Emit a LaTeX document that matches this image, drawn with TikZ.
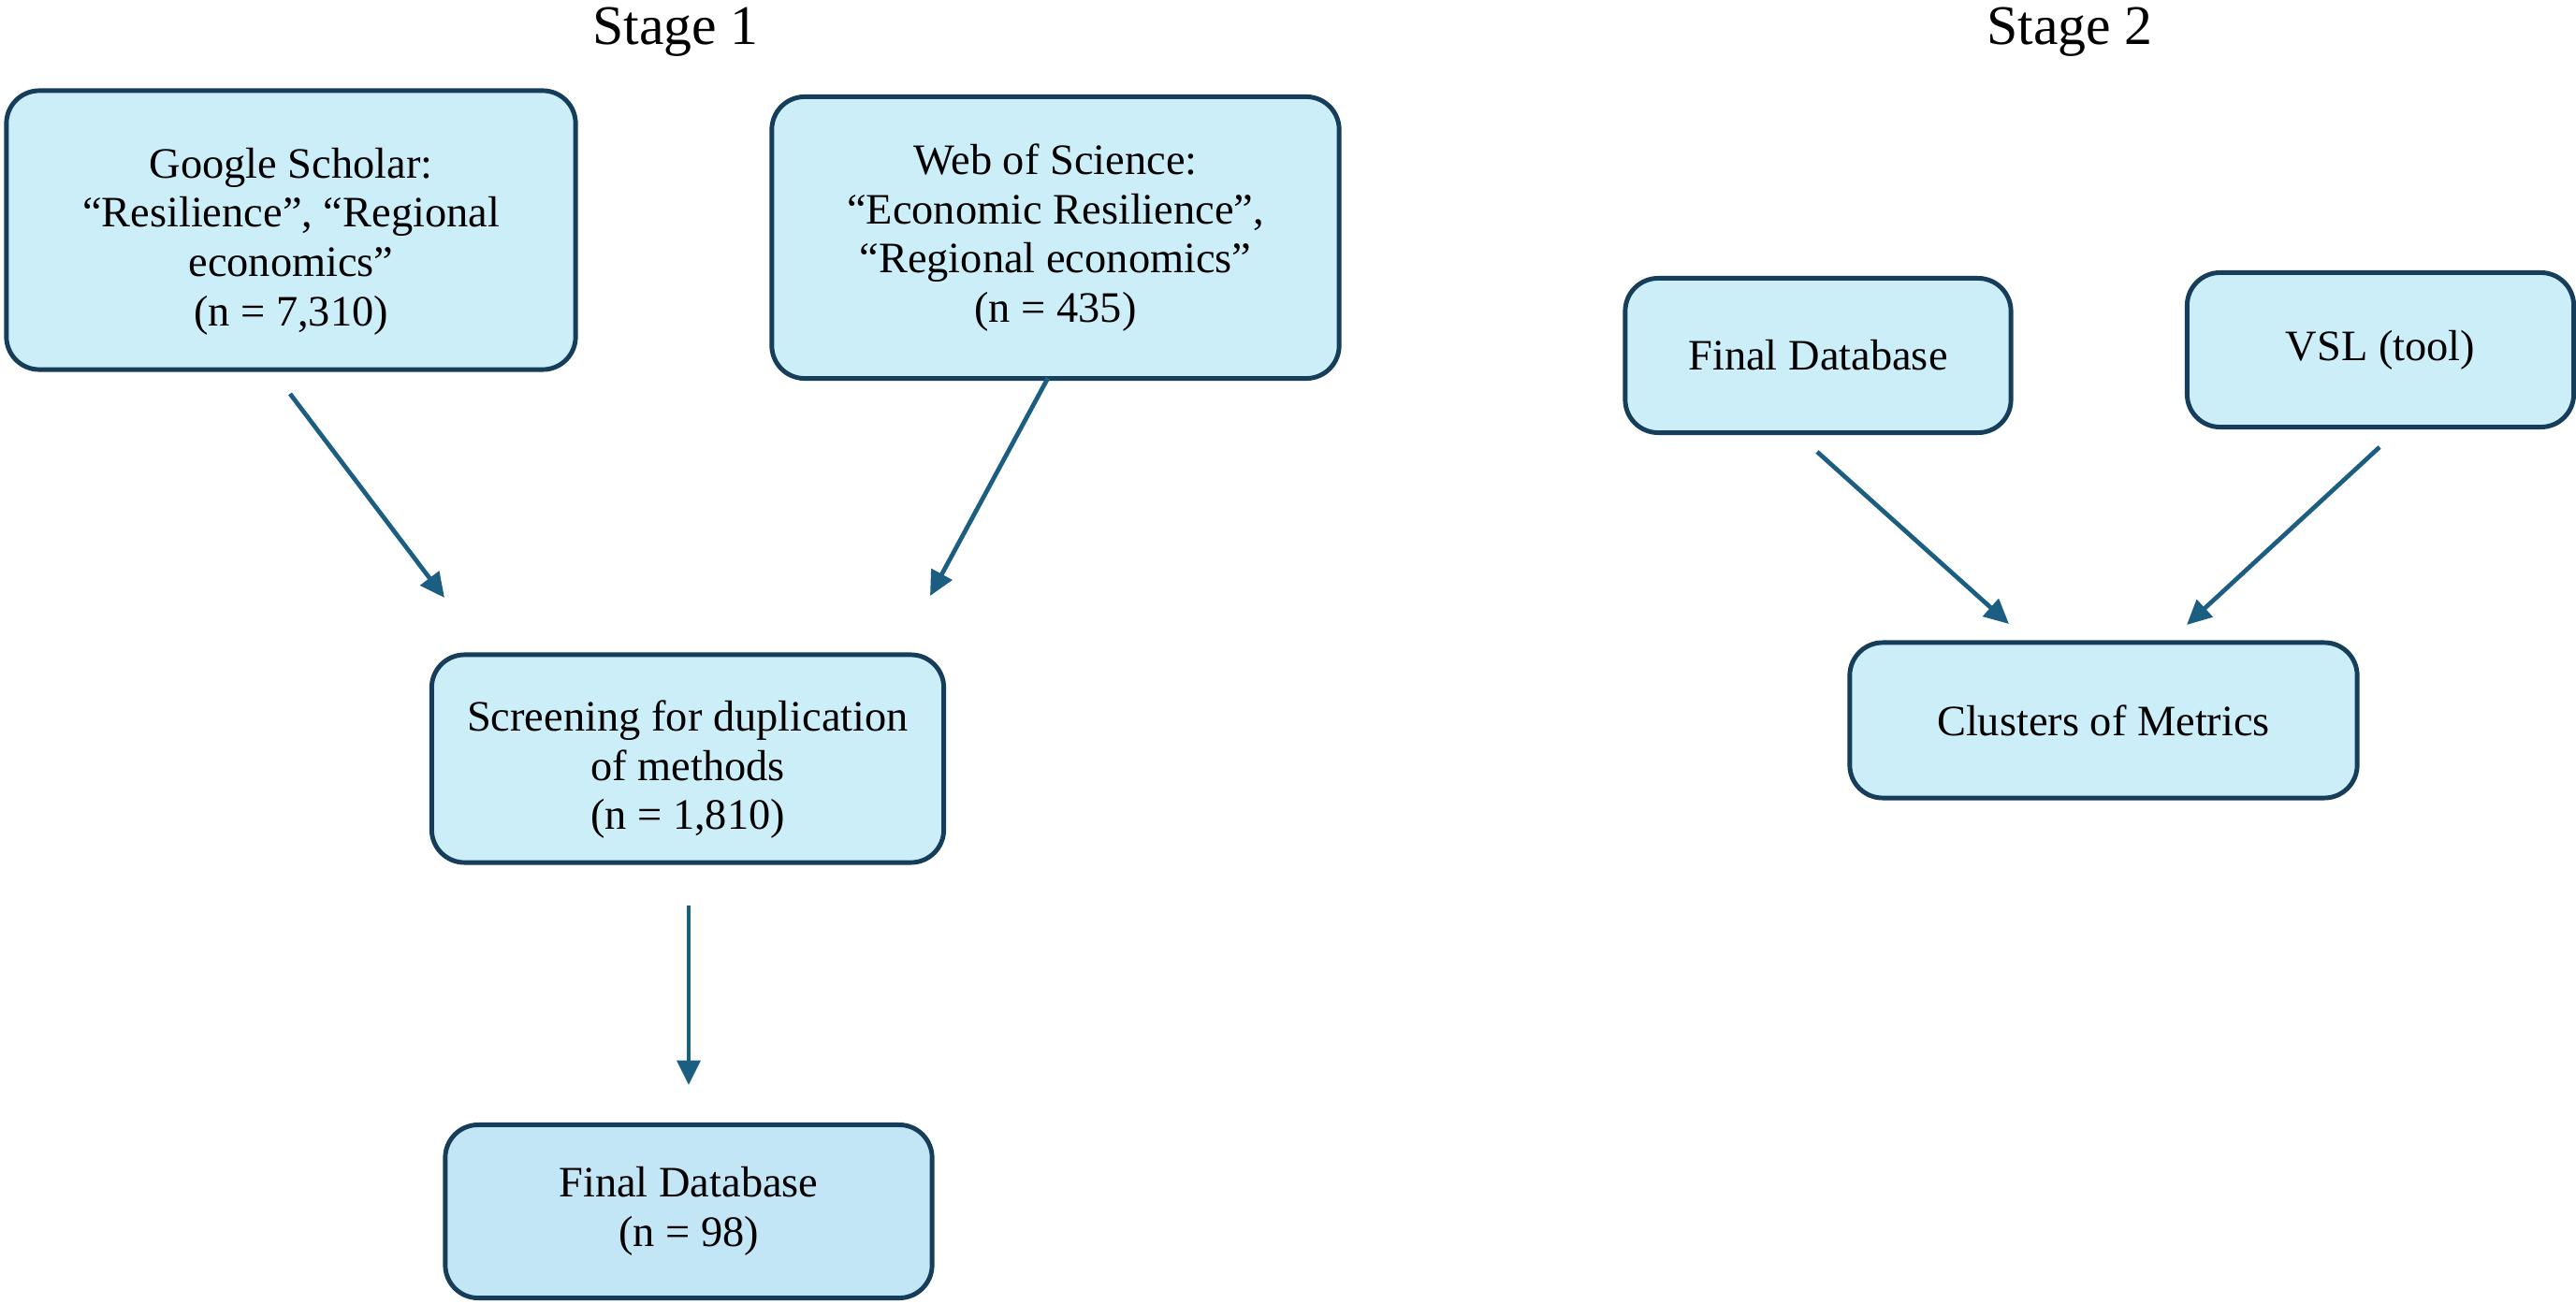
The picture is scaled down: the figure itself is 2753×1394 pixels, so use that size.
\documentclass[tikz,border=0pt]{standalone}
\usepackage{fontspec}
\setmainfont{Liberation Serif}
\usetikzlibrary{arrows.meta}
\definecolor{boxfill}{HTML}{CCEEF9}
\definecolor{boxfillb}{HTML}{C2E6F5}
\definecolor{boxline}{HTML}{163E5A}
\definecolor{arrcol}{HTML}{1C5E82}
\tikzset{
  flowbox/.style={draw=boxline, fill=boxfill, line width=1.4pt, rounded corners=10pt,
    align=center, inner sep=0pt, font=\fontsize{13.2}{15}\selectfont},
  flowarr/.style={draw=arrcol, line width=1.35pt, -{Triangle[length=7.5pt,width=7pt]}},
  stagetitle/.style={font=\fontsize{17}{20}\selectfont, inner sep=0pt}
}
\newcommand{\topgap}{\rule{0pt}{16pt}}
\begin{document}
\begin{tikzpicture}[x=0.01cm, y=-0.01cm]
\useasboundingbox (0,0) rectangle (2753,1394);
% titles
\node[stagetitle, anchor=base] (t1) at (722,48) {Stage 1};
\node[stagetitle, anchor=base] (t2) at (2212,48) {Stage 2};
% stage 1 boxes
\node[flowbox, minimum width=6.08cm, minimum height=2.98cm] (gs) at (311,246)
  {\topgap Google Scholar:\\ ``Resilience'', ``Regional\\ economics''\\ (n = 7,310)};
\node[flowbox, minimum width=6.06cm, minimum height=3.01cm] (wos) at (1128,254)
  {Web of Science:\\ ``Economic Resilience'',\\ ``Regional economics''\\ (n = 435)};
\node[flowbox, minimum width=5.47cm, minimum height=2.22cm] (scr) at (735,811)
  {\topgap Screening for duplication\\ of methods\\ (n = 1,810)};
\node[flowbox, fill=boxfillb, minimum width=5.20cm, minimum height=1.85cm] (fdb) at (736,1295)
  {Final Database\\ (n = 98)};
% stage 2 boxes
\node[flowbox, minimum width=4.12cm, minimum height=1.65cm] (fd2) at (1943,380) {Final Database};
\node[flowbox, minimum width=4.13cm, minimum height=1.65cm] (vsl) at (2544,374) {VSL (tool)};
\node[flowbox, minimum width=5.42cm, minimum height=1.66cm] (clu) at (2248,770) {Clusters of Metrics};
% connector ends
\coordinate (a1s) at (310,421);  \coordinate (a1e) at (475,639);
\coordinate (a2s) at (1120,404); \coordinate (a2e) at (994,637);
\coordinate (a3s) at (736,968);  \coordinate (a3e) at (736,1160);
\coordinate (a4s) at (1942,483); \coordinate (a4e) at (2147,667);
\coordinate (a5s) at (2543,478); \coordinate (a5e) at (2337,668);
\draw[flowarr] (a1s) -- (a1e);
\draw[flowarr] (a2s) -- (a2e);
\draw[flowarr] (a3s) -- (a3e);
\draw[flowarr] (a4s) -- (a4e);
\draw[flowarr] (a5s) -- (a5e);
\end{tikzpicture}
\end{document}
